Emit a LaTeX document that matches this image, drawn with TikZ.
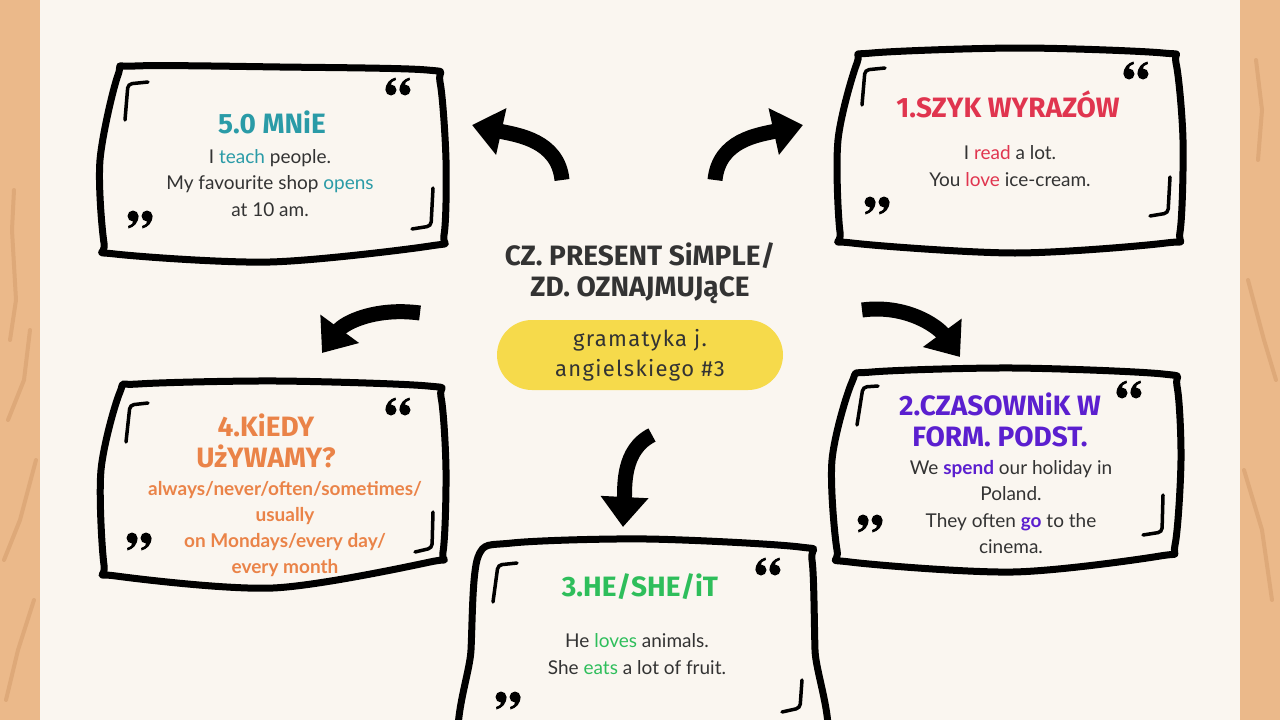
\documentclass[tikz,border=0pt]{standalone}
\usepackage{fontspec}
\setmainfont{Lato}
\newfontfamily\headfont{Fira Sans}
\newfontfamily\handfont[LetterSpace=6]{Fira Sans}
\usetikzlibrary{arrows.meta}
\definecolor{paper}{HTML}{FAF6F0}
\definecolor{wood}{HTML}{EBB98A}
\definecolor{woodgrain}{HTML}{DEA979}
\definecolor{ink}{HTML}{333333}
\definecolor{pilly}{HTML}{F6DA4B}
\definecolor{tealc}{HTML}{2A9BA7}
\definecolor{redc}{HTML}{E0354F}
\definecolor{purplec}{HTML}{5B1FCF}
\definecolor{greenc}{HTML}{2EBE5B}
\definecolor{orangec}{HTML}{EA8348}

\begin{document}
\begin{tikzpicture}[x=1pt, y=-1pt, >={Triangle[width=46pt,length=30pt]}]
    \tikzstyle{frame_style} = [draw=black, line width=7pt, line join=round]
    \tikzstyle{mark_style} = [draw=black, line width=3.5pt, line cap=round, rounded corners=4pt]
    \tikzstyle{head_style} = [font=\headfont\bfseries\fontsize{28}{31}\selectfont, align=center]
    \tikzstyle{body_style} = [font=\fontsize{19}{26.5}\selectfont, text=ink, align=center]
    \tikzstyle{arrow_style} = [draw=black, line width=15pt, ->]
    \tikzstyle{grain_style} = [draw=woodgrain, line width=4pt, line cap=round, line join=round]
    \tikzset{
      qmark/.pic={\fill (0,0) circle (5.5);
        \fill (-5.5,0.5) .. controls (-5.5,-7) and (-1,-11) .. (4.5,-12.5) -- (5,-10) .. controls (1,-8.5) and (-0.5,-7) .. (0,-5.5) -- cycle;},
      qmarkc/.pic={\fill (0,0) circle (5.5);
        \fill (5.5,-0.5) .. controls (5.5,7) and (1,11) .. (-4.5,12.5) -- (-5,10) .. controls (-1,8.5) and (0.5,7) .. (0,5.5) -- cycle;},
      qopen/.pic={\pic at (-7,3) {qmark}; \pic at (7,3) {qmark};},
      qclose/.pic={\pic at (-7,-3) {qmarkc}; \pic at (7,-3) {qmarkc};}
    }
    \clip (0,0) rectangle (1280,720);
    % background
    \fill[wood] (0,0) rectangle (1280,720);
    \fill[paper] (40,0) rectangle (1240,720);
    \draw[grain_style] (14,190) -- (12,230) -- (16,300) -- (10,340);
    \draw[grain_style] (30,330) -- (24,380) -- (8,420);
    \draw[grain_style] (36,460) -- (20,520) -- (4,560);
    \draw[grain_style] (34,600) -- (18,650) -- (6,700);
    \draw[grain_style] (1256,60) -- (1262,110) -- (1258,160);
    \draw[grain_style] (1248,280) -- (1264,340) -- (1276,380);
    \draw[grain_style] (1244,470) -- (1262,530) -- (1272,600);

    % frames
    \draw[frame_style] plot[smooth cycle, tension=0.5] coordinates {(135,66) (280,67) (427,70) (440,82) (446,160) (444,235) (430,246) (270,262) (115,254) (104,243) (100,160) (118,75)};
    \draw[frame_style] plot[smooth cycle, tension=0.5] coordinates {(872,53) (1020,48) (1163,53) (1176,63) (1183,140) (1180,232) (1166,243) (1015,253) (852,243) (840,232) (838,140) (857,63)};
    \draw[frame_style] plot[smooth cycle, tension=0.5] coordinates {(138,384) (277,381) (428,386) (441,397) (446,470) (443,552) (430,562) (273,588) (116,576) (104,565) (101,470) (120,392)};
    \draw[frame_style] plot[smooth cycle, tension=0.5] coordinates {(872,372) (1013,368) (1163,374) (1177,386) (1181,460) (1175,545) (1160,556) (1013,572) (850,562) (837,550) (832,460) (852,382)};
    \draw[frame_style] plot[smooth cycle, tension=0.5] coordinates {(512,543) (647,539) (800,547) (812,560) (815,650) (818,760) (640,790) (468,760) (471,650) (478,557)};

    % corner marks
    \draw[mark_style] (148,82) -- (128,84) -- (125,120);
    \draw[mark_style] (433,188) -- (431,226) -- (412,229);
    \draw[mark_style] (885,68) -- (865,70) -- (862,105);
    \draw[mark_style] (1170,177) -- (1168,213) -- (1150,216);
    \draw[mark_style] (148,403) -- (130,405) -- (126,442);
    \draw[mark_style] (433,512) -- (432,548) -- (415,552);
    \draw[mark_style] (878,386) -- (863,387) -- (857,425);
    \draw[mark_style] (1163,495) -- (1162,532) -- (1143,535);
    \draw[mark_style] (517,563) -- (498,565) -- (493,602);
    \draw[mark_style] (802,680) -- (800,708) -- (782,712);

    % quotes
    \pic at (398,87) {qopen};
    \pic at (140,219) {qclose};
    \pic at (1136,71) {qopen};
    \pic at (877,205) {qclose};
    \pic at (398,407) {qopen};
    \pic at (139,541) {qclose};
    \pic at (1129,390) {qopen};
    \pic at (870,523) {qclose};
    \pic at (768,567) {qopen};
    \pic at (508,700) {qclose};

    % centre
    \node[head_style, text=ink] (ctitle) at (640,273) {CZ. PRESENT SiMPLE/\\ZD. OZNAJMUJąCE};
    \node[fill=pilly, rounded corners=35pt, minimum width=286pt, minimum height=70pt, align=center,
          text=ink, font=\handfont\fontsize{22}{30}\selectfont] (cpill) at (640,355) {gramatyka j.\\angielskiego \#3};

    % boxes
    \node[head_style, text=tealc] (t5) at (272,122) {5.0 MNiE};
    \node[body_style] (b5) at (270,183) {I \textcolor{tealc}{teach} people.\\My favourite shop \textcolor{tealc}{opens}\\at 10 am.};
    \node[head_style, text=redc] (t1) at (1008,104) {1.SZYK WYRAZÓW};
    \node[body_style] (b1) at (1010,166) {I \textcolor{redc}{read} a lot.\\You \textcolor{redc}{love} ice-cream.};
    \node[head_style, text=purplec] (t2) at (1000,420) {2.CZASOWNiK W\\FORM. PODST.};
    \node[body_style] (b2) at (1011,507) {We \textcolor{purplec}{\bfseries spend} our holiday in\\Poland.\\They often \textcolor{purplec}{\bfseries go} to the\\cinema.};
    \node[head_style, text=greenc] (t3) at (640,587) {3.HE/SHE/iT};
    \node[body_style] (b3) at (637,654) {He \textcolor{greenc}{loves} animals.\\She \textcolor{greenc}{eats} a lot of fruit.};
    \node[head_style, text=orangec] (t4) at (266,441) {4.KiEDY\\UżYWAMY?};
    \node[body_style, text=orangec, font=\bfseries\fontsize{19}{26}\selectfont] (b4) at (285,529) {always/never/often/sometimes/\\usually\\on Mondays/every day/\\every month};

    % arrows
    \coordinate (a5s) at (562,180); \coordinate (a5e) at (472,125);
    \coordinate (a1s) at (715,180); \coordinate (a1e) at (803,125);
    \coordinate (a4s) at (420,313); \coordinate (a4e) at (322,353);
    \coordinate (a2s) at (862,310); \coordinate (a2e) at (960,357);
    \coordinate (a3s) at (652,435); \coordinate (a3e) at (623,527);
    \draw[arrow_style] (a5s) .. controls +(-4,-40) and +(45,10) .. (a5e);
    \draw[arrow_style] (a1s) .. controls +(4,-40) and +(-45,10) .. (a1e);
    \draw[arrow_style] (a4s) .. controls +(-45,-6) and +(22,-30) .. (a4e);
    \draw[arrow_style] (a2s) .. controls +(45,-6) and +(-22,-30) .. (a2e);
    \draw[arrow_style] (a3s) .. controls +(-30,15) and +(2,-40) .. (a3e);
\end{tikzpicture}
\end{document}
